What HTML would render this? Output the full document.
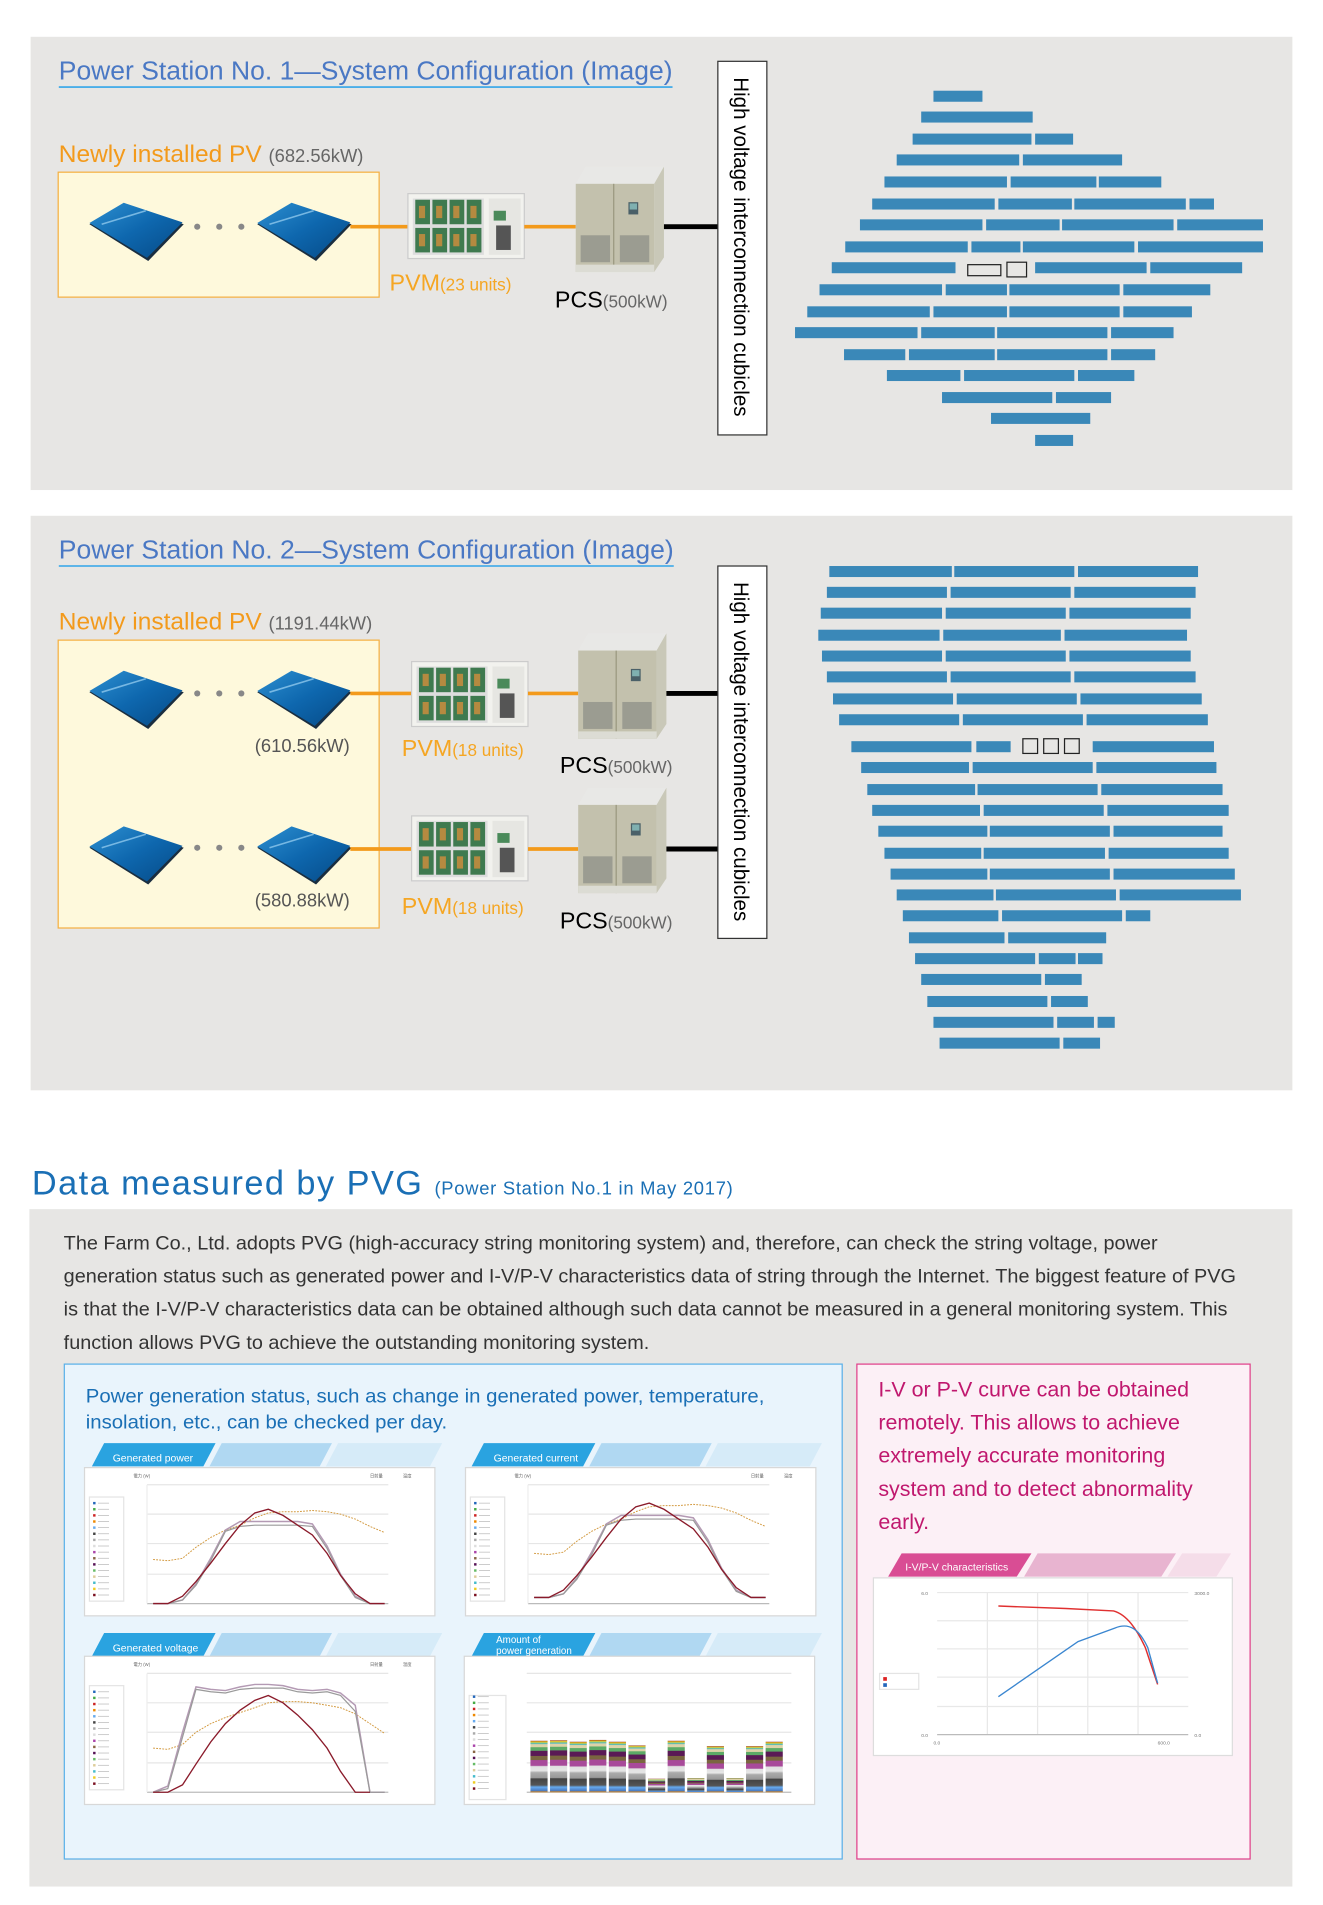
<!DOCTYPE html>
<html><head><meta charset="utf-8"><style>
html,body{margin:0;padding:0;background:#fff}
svg{display:block}
text{font-family:"Liberation Sans",Arial,sans-serif}
</style></head><body>
<svg width="1323" height="1905" viewBox="0 0 1080 1555" xmlns="http://www.w3.org/2000/svg">
<defs>
<linearGradient id="pg" x1="0" y1="0" x2="1" y2="1"><stop offset="0" stop-color="#2d8fd0"/><stop offset="0.5" stop-color="#0e67ae"/><stop offset="1" stop-color="#064a86"/></linearGradient>
<g id="panel"><polygon points="0,20 28,4 77,20 48,50" fill="#1a2e40"/><polygon points="0,19 28,2.5 76,18.5 47,47.5" fill="url(#pg)"/><line x1="10" y1="20" x2="46" y2="9" stroke="#9fd4f4" stroke-width="1.3" opacity="0.7"/></g>
<g id="pvm">
<rect x="0" y="0" width="95" height="53" fill="#f2f2ee" stroke="#ccc"/>
<rect x="4" y="4" width="58" height="46" fill="#ddd"/>
<g fill="#3f7a4f"><rect x="6" y="5" width="12" height="20"/><rect x="20" y="5" width="12" height="20"/><rect x="34" y="5" width="12" height="20"/><rect x="48" y="5" width="12" height="20"/><rect x="6" y="28" width="12" height="20"/><rect x="20" y="28" width="12" height="20"/><rect x="34" y="28" width="12" height="20"/><rect x="48" y="28" width="12" height="20"/></g>
<g fill="#b58a40"><rect x="9" y="10" width="5" height="10"/><rect x="23" y="10" width="5" height="10"/><rect x="37" y="10" width="5" height="10"/><rect x="51" y="10" width="5" height="10"/><rect x="9" y="33" width="5" height="10"/><rect x="23" y="33" width="5" height="10"/><rect x="37" y="33" width="5" height="10"/><rect x="51" y="33" width="5" height="10"/></g>
<rect x="66" y="4" width="26" height="46" fill="#e6e6e2"/><rect x="70" y="14" width="10" height="8" fill="#4a8a5a"/><rect x="72" y="26" width="12" height="20" fill="#555"/>
</g>
<g id="pcs">
<polygon points="0,14 64,14 72,0 8,0" fill="#e8e8e6"/><polygon points="64,14 72,0 72,74 64,86" fill="#c9c8b8"/>
<rect x="0" y="14" width="64" height="72" fill="#c3c1ad"/><line x1="31" y1="14" x2="31" y2="86" stroke="#9a987f"/>
<rect x="0" y="80" width="64" height="6" fill="#dcdcd4"/>
<rect x="4" y="56" width="24" height="22" fill="#9b9c91"/><rect x="36" y="56" width="24" height="22" fill="#9b9c91"/>
<rect x="43" y="29" width="8" height="10" fill="#4a6068"/><rect x="44" y="30" width="6" height="5" fill="#7fb0b0"/>
</g>
</defs>

<!-- Panel 1 -->
<rect x="25" y="30" width="1030" height="370" fill="#e7e6e4"/>
<text x="48" y="65" font-size="21" fill="#4a78c4" textLength="501" lengthAdjust="spacingAndGlyphs">Power Station No. 1—System Configuration (Image)</text>
<line x1="48" y1="71" x2="549" y2="71" stroke="#4aaee8" stroke-width="1.5"/>
<text x="48" y="132" font-size="20" fill="#f39a1b">Newly installed PV <tspan font-size="15" fill="#666">(682.56kW)</tspan></text>
<rect x="47.5" y="140.5" width="262" height="102" fill="#fef9dc" stroke="#f5b042"/>
<use href="#panel" x="73" y="163"/><use href="#panel" x="210" y="163"/>
<circle cx="161" cy="185" r="2.5" fill="#888"/><circle cx="179" cy="185" r="2.5" fill="#888"/><circle cx="197" cy="185" r="2.5" fill="#888"/>
<line x1="286" y1="185" x2="333" y2="185" stroke="#f39a1b" stroke-width="3"/>
<use href="#pvm" x="333" y="158"/>
<line x1="428" y1="185" x2="470" y2="185" stroke="#f39a1b" stroke-width="3"/>
<use href="#pcs" x="470" y="136"/>
<line x1="542" y1="185" x2="586" y2="185" stroke="#000" stroke-width="4"/>
<text x="318" y="237" font-size="19" fill="#f5a623">PVM<tspan font-size="14">(23 units)</tspan></text>
<text x="453" y="251" font-size="19" fill="#000">PCS<tspan font-size="14" fill="#666">(500kW)</tspan></text>
<rect x="586" y="50" width="40" height="305" fill="#fff" stroke="#333"/>
<text transform="translate(599,63) rotate(90)" font-size="17" fill="#000" textLength="277" lengthAdjust="spacingAndGlyphs">High voltage interconnection cubicles</text>
<g fill="#3a88b8">
<rect x="762" y="74" width="40" height="9"/>
<rect x="752" y="91" width="91" height="9"/>
<rect x="745" y="109" width="97" height="9"/><rect x="845" y="109" width="31" height="9"/>
<rect x="732" y="126" width="100" height="9"/><rect x="835" y="126" width="81" height="9"/>
<rect x="722" y="144" width="100" height="9"/><rect x="825" y="144" width="70" height="9"/><rect x="897" y="144" width="51" height="9"/>
<rect x="712" y="162" width="100" height="9"/><rect x="815" y="162" width="60" height="9"/><rect x="877" y="162" width="91" height="9"/><rect x="971" y="162" width="20" height="9"/>
<rect x="702" y="179" width="100" height="9"/><rect x="805" y="179" width="60" height="9"/><rect x="867" y="179" width="91" height="9"/><rect x="961" y="179" width="70" height="9"/>
<rect x="690" y="197" width="100" height="9"/><rect x="793" y="197" width="40" height="9"/><rect x="835" y="197" width="91" height="9"/><rect x="929" y="197" width="102" height="9"/>
<rect x="679" y="214" width="101" height="9"/><rect x="845" y="214" width="91" height="9"/><rect x="939" y="214" width="75" height="9"/>
<rect x="669" y="232" width="100" height="9"/><rect x="772" y="232" width="50" height="9"/><rect x="824" y="232" width="90" height="9"/><rect x="917" y="232" width="71" height="9"/>
<rect x="659" y="250" width="100" height="9"/><rect x="762" y="250" width="60" height="9"/><rect x="824" y="250" width="90" height="9"/><rect x="917" y="250" width="56" height="9"/>
<rect x="649" y="267" width="100" height="9"/><rect x="752" y="267" width="60" height="9"/><rect x="814" y="267" width="90" height="9"/><rect x="907" y="267" width="51" height="9"/>
<rect x="689" y="285" width="50" height="9"/><rect x="742" y="285" width="70" height="9"/><rect x="814" y="285" width="90" height="9"/><rect x="907" y="285" width="36" height="9"/>
<rect x="724" y="302" width="60" height="9"/><rect x="787" y="302" width="90" height="9"/><rect x="880" y="302" width="46" height="9"/>
<rect x="769" y="320" width="90" height="9"/><rect x="862" y="320" width="45" height="9"/>
<rect x="809" y="337" width="81" height="9"/>
<rect x="845" y="355" width="31" height="9"/>
</g>
<rect x="790" y="216" width="27" height="9" fill="none" stroke="#222"/><rect x="822" y="214" width="16" height="12" fill="none" stroke="#222"/>

<!-- Panel 2 -->
<rect x="25" y="421" width="1030" height="469" fill="#e7e6e4"/>
<text x="48" y="456" font-size="21" fill="#4a78c4" textLength="502" lengthAdjust="spacingAndGlyphs">Power Station No. 2—System Configuration (Image)</text>
<line x1="48" y1="462" x2="550" y2="462" stroke="#4aaee8" stroke-width="1.5"/>
<text x="48" y="514" font-size="20" fill="#f39a1b">Newly installed PV <tspan font-size="15" fill="#666">(1191.44kW)</tspan></text>
<rect x="47.5" y="522.5" width="262" height="235" fill="#fef9dc" stroke="#f5b042"/>
<use href="#panel" x="73" y="545"/><use href="#panel" x="210" y="545"/>
<circle cx="161" cy="566" r="2.5" fill="#888"/><circle cx="179" cy="566" r="2.5" fill="#888"/><circle cx="197" cy="566" r="2.5" fill="#888"/>
<use href="#panel" x="73" y="672"/><use href="#panel" x="210" y="672"/>
<circle cx="161" cy="692" r="2.5" fill="#888"/><circle cx="179" cy="692" r="2.5" fill="#888"/><circle cx="197" cy="692" r="2.5" fill="#888"/>
<text x="208" y="614" font-size="15" fill="#555">(610.56kW)</text>
<text x="208" y="740" font-size="15" fill="#555">(580.88kW)</text>
<line x1="286" y1="566" x2="336" y2="566" stroke="#f39a1b" stroke-width="3"/>
<use href="#pvm" x="336" y="540"/>
<line x1="431" y1="566" x2="472" y2="566" stroke="#f39a1b" stroke-width="3"/>
<use href="#pcs" x="472" y="517"/>
<line x1="544" y1="566" x2="586" y2="566" stroke="#000" stroke-width="4"/>
<line x1="286" y1="693" x2="336" y2="693" stroke="#f39a1b" stroke-width="3"/>
<use href="#pvm" x="336" y="666"/>
<line x1="431" y1="693" x2="472" y2="693" stroke="#f39a1b" stroke-width="3"/>
<use href="#pcs" x="472" y="643"/>
<line x1="544" y1="693" x2="586" y2="693" stroke="#000" stroke-width="4"/>
<text x="328" y="617" font-size="19" fill="#f5a623">PVM<tspan font-size="14">(18 units)</tspan></text>
<text x="328" y="746" font-size="19" fill="#f5a623">PVM<tspan font-size="14">(18 units)</tspan></text>
<text x="457" y="631" font-size="19" fill="#000">PCS<tspan font-size="14" fill="#666">(500kW)</tspan></text>
<text x="457" y="758" font-size="19" fill="#000">PCS<tspan font-size="14" fill="#666">(500kW)</tspan></text>
<rect x="586" y="462" width="40" height="304" fill="#fff" stroke="#333"/>
<text transform="translate(599,475) rotate(90)" font-size="17" fill="#000" textLength="277" lengthAdjust="spacingAndGlyphs">High voltage interconnection cubicles</text>
<g fill="#3a88b8">
<rect x="677" y="462" width="100" height="9"/><rect x="779" y="462" width="98" height="9"/><rect x="880" y="462" width="98" height="9"/>
<rect x="675" y="479" width="98" height="9"/><rect x="776" y="479" width="98" height="9"/><rect x="877" y="479" width="99" height="9"/>
<rect x="670" y="496" width="99" height="9"/><rect x="772" y="496" width="98" height="9"/><rect x="873" y="496" width="99" height="9"/>
<rect x="668" y="514" width="99" height="9"/><rect x="770" y="514" width="96" height="9"/><rect x="869" y="514" width="100" height="9"/>
<rect x="671" y="531" width="98" height="9"/><rect x="772" y="531" width="98" height="9"/><rect x="873" y="531" width="99" height="9"/>
<rect x="675" y="548" width="98" height="9"/><rect x="776" y="548" width="98" height="9"/><rect x="877" y="548" width="99" height="9"/>
<rect x="680" y="566" width="98" height="9"/><rect x="781" y="566" width="98" height="9"/><rect x="882" y="566" width="99" height="9"/>
<rect x="685" y="583" width="98" height="9"/><rect x="786" y="583" width="98" height="9"/><rect x="887" y="583" width="99" height="9"/>
<rect x="695" y="605" width="98" height="9"/><rect x="797" y="605" width="28" height="9"/><rect x="892" y="605" width="99" height="9"/>
<rect x="703" y="622" width="88" height="9"/><rect x="794" y="622" width="98" height="9"/><rect x="895" y="622" width="98" height="9"/>
<rect x="708" y="640" width="88" height="9"/><rect x="798" y="640" width="98" height="9"/><rect x="899" y="640" width="99" height="9"/>
<rect x="712" y="657" width="88" height="9"/><rect x="803" y="657" width="98" height="9"/><rect x="904" y="657" width="99" height="9"/>
<rect x="717" y="674" width="89" height="9"/><rect x="808" y="674" width="98" height="9"/><rect x="909" y="674" width="89" height="9"/>
<rect x="722" y="692" width="79" height="9"/><rect x="803" y="692" width="99" height="9"/><rect x="905" y="692" width="98" height="9"/>
<rect x="727" y="709" width="79" height="9"/><rect x="808" y="709" width="98" height="9"/><rect x="909" y="709" width="99" height="9"/>
<rect x="732" y="726" width="79" height="9"/><rect x="813" y="726" width="98" height="9"/><rect x="914" y="726" width="99" height="9"/>
<rect x="737" y="743" width="78" height="9"/><rect x="818" y="743" width="98" height="9"/><rect x="919" y="743" width="20" height="9"/>
<rect x="742" y="761" width="78" height="9"/><rect x="823" y="761" width="80" height="9"/>
<rect x="747" y="778" width="98" height="9"/><rect x="848" y="778" width="30" height="9"/><rect x="880" y="778" width="20" height="9"/>
<rect x="752" y="795" width="98" height="9"/><rect x="853" y="795" width="30" height="9"/>
<rect x="757" y="813" width="98" height="9"/><rect x="858" y="813" width="30" height="9"/>
<rect x="762" y="830" width="98" height="9"/><rect x="863" y="830" width="30" height="9"/><rect x="896" y="830" width="14" height="9"/>
<rect x="767" y="847" width="98" height="9"/><rect x="868" y="847" width="30" height="9"/>
</g>
<g fill="none" stroke="#222"><rect x="835" y="603" width="12" height="12"/><rect x="852" y="603" width="12" height="12"/><rect x="869" y="603" width="12" height="12"/></g>

<!-- Data measured -->
<text x="26" y="975" font-size="28" fill="#1a6fb5" letter-spacing="1.2">Data measured by PVG <tspan font-size="15" letter-spacing="0.6">(Power Station No.1 in May 2017)</tspan></text>
<rect x="24" y="987" width="1031" height="553" fill="#e7e6e4"/>
<g font-size="15.5" fill="#333">
<text x="52" y="1020" textLength="893" lengthAdjust="spacingAndGlyphs">The Farm Co., Ltd. adopts PVG (high-accuracy string monitoring system) and, therefore, can check the string voltage, power</text>
<text x="52" y="1047" textLength="957" lengthAdjust="spacingAndGlyphs">generation status such as generated power and I-V/P-V characteristics data of string through the Internet. The biggest feature of PVG</text>
<text x="52" y="1074" textLength="950" lengthAdjust="spacingAndGlyphs">is that the I-V/P-V characteristics data can be obtained although such data cannot be measured in a general monitoring system. This</text>
<text x="52" y="1101" textLength="478" lengthAdjust="spacingAndGlyphs">function allows PVG to achieve the outstanding monitoring system.</text>
</g>

<rect x="52.5" y="1113.5" width="635" height="404" fill="#e9f4fc" stroke="#5ab0e8"/>
<text x="70" y="1145" font-size="15.5" fill="#1a6fb5" textLength="554" lengthAdjust="spacingAndGlyphs">Power generation status, such as change in generated power, temperature,</text>
<text x="70" y="1166" font-size="15.5" fill="#1a6fb5" textLength="295" lengthAdjust="spacingAndGlyphs">insolation, etc., can be checked per day.</text>

<defs>
<g id="tabs"><polygon points="16,0 107,0 97,19 6,19" fill="#2aa3e0"/><polygon points="112,0 202,0 192,19 102,19" fill="#b0d8f2"/><polygon points="207,0 292,0 282,19 197,19" fill="#d6ebf8"/></g>
<g id="frame">
<rect x="0" y="0" width="286" height="121" fill="#fff" stroke="#d8d8d8"/>
<g stroke="#e6e6e6"><line x1="51" y1="14" x2="248" y2="14"/><line x1="51" y1="38" x2="248" y2="38"/><line x1="51" y1="62" x2="248" y2="62"/><line x1="51" y1="87" x2="248" y2="87"/></g>
<line x1="51" y1="111" x2="248" y2="111" stroke="#bbb"/>
<line x1="51" y1="14" x2="51" y2="111" stroke="#eee"/>
<rect x="4" y="24" width="28" height="85" fill="none" stroke="#e4e4e4"/>
<g fill="#666" font-size="3.5"><text x="40" y="8">電力 (W)</text><text x="233" y="8">日射量</text><text x="260" y="8">温度</text></g>
</g>
<g id="leg"><rect x="7" y="28" width="2" height="2" fill="#2266bb"/><rect x="7" y="33" width="2" height="2" fill="#44aa44"/><rect x="7" y="38" width="2" height="2" fill="#cc2222"/><rect x="7" y="43" width="2" height="2" fill="#ee8800"/><rect x="7" y="48" width="2" height="2" fill="#66aaee"/><rect x="7" y="53" width="2" height="2" fill="#444"/><rect x="7" y="58" width="2" height="2" fill="#aaa"/><rect x="7" y="63" width="2" height="2" fill="#ddd"/><rect x="7" y="68" width="2" height="2" fill="#aa44aa"/><rect x="7" y="73" width="2" height="2" fill="#886644"/><rect x="7" y="78" width="2" height="2" fill="#551155"/><rect x="7" y="83" width="2" height="2" fill="#66bb66"/><rect x="7" y="88" width="2" height="2" fill="#ddcc99"/><rect x="7" y="93" width="2" height="2" fill="#44bbcc"/><rect x="7" y="98" width="2" height="2" fill="#eecc22"/><rect x="7" y="103" width="2" height="2" fill="#7a1020"/>
<g stroke="#bbb" stroke-width="0.6"><line x1="11" y1="29" x2="20" y2="29"/><line x1="11" y1="34" x2="20" y2="34"/><line x1="11" y1="39" x2="20" y2="39"/><line x1="11" y1="44" x2="20" y2="44"/><line x1="11" y1="49" x2="20" y2="49"/><line x1="11" y1="54" x2="20" y2="54"/><line x1="11" y1="59" x2="20" y2="59"/><line x1="11" y1="64" x2="20" y2="64"/><line x1="11" y1="69" x2="20" y2="69"/><line x1="11" y1="74" x2="20" y2="74"/><line x1="11" y1="79" x2="20" y2="79"/><line x1="11" y1="84" x2="20" y2="84"/><line x1="11" y1="89" x2="20" y2="89"/><line x1="11" y1="94" x2="20" y2="94"/><line x1="11" y1="99" x2="20" y2="99"/><line x1="11" y1="104" x2="20" y2="104"/></g></g>
<g id="bell">
<polyline fill="none" stroke="#d39a40" stroke-width="0.8" stroke-dasharray="1.5,1" points="56,75 68,76 80,74 91,65 103,57 115,51 127,47 139,41 150,37 162,36 174,36 186,35 198,36 209,38 221,42 233,48 245,53"/>
<polyline fill="none" stroke="#b49ab4" stroke-width="1.2" points="56,111 68,111 80,108 91,95 103,74 115,51 127,44 139,44 150,44 162,44 174,44 186,46 198,64 209,87 221,105 233,111 245,111"/>
<polyline fill="none" stroke="#9a9a9a" stroke-width="1" points="56,111 68,111 80,108 91,96 103,76 115,52 127,48 139,47 150,47 162,47 174,47 186,48 198,66 209,88 221,106 233,111 245,111"/>
<polyline fill="none" stroke="#8a1a2a" stroke-width="1.1" points="56,111 68,111 80,105 91,93 103,78 115,62 127,47 139,37 150,34 162,39 174,47 186,55 198,70 209,88 221,103 233,111 245,111"/>
</g>
</defs>

<use href="#tabs" x="69" y="1178"/><text x="92" y="1193" font-size="8.5" fill="#fff">Generated power</text>
<use href="#tabs" x="379" y="1178"/><text x="403" y="1193" font-size="8.5" fill="#fff">Generated current</text>
<use href="#tabs" x="69" y="1333"/><text x="92" y="1348" font-size="8.5" fill="#fff">Generated voltage</text>
<use href="#tabs" x="379" y="1333"/><text x="405" y="1341" font-size="8" fill="#fff">Amount of</text><text x="405" y="1350" font-size="8" fill="#fff">power generation</text>

<g transform="translate(69,1198)"><use href="#frame"/><use href="#leg"/><use href="#bell"/></g>
<g transform="translate(380,1198)"><use href="#frame"/><use href="#leg"/><g transform="translate(0,-5)"><use href="#bell"/></g></g>
<g transform="translate(69,1352)"><use href="#frame"/><use href="#leg"/>
<polyline fill="none" stroke="#d39a40" stroke-width="0.8" stroke-dasharray="1.5,1" points="56,75 68,76 80,72 91,62 103,55 115,50 127,46 139,42 150,38 162,37 174,37 186,38 198,40 209,42 221,47 233,55 245,63"/>
<polyline fill="none" stroke="#b49ab4" stroke-width="1.2" points="56,111 68,106 80,62 91,25 103,27 115,28 127,25 139,23 150,23 162,24 174,27 186,28 198,27 209,30 221,40 233,111 245,111"/>
<polyline fill="none" stroke="#9a9a9a" stroke-width="1" points="56,111 68,108 80,66 91,27 103,29 115,30 127,27 139,26 150,26 162,26 174,29 186,30 198,29 209,32 221,45 233,111 245,111"/>
<polyline fill="none" stroke="#8a1a2a" stroke-width="1.1" points="56,111 68,111 80,105 91,88 103,70 115,55 127,44 139,36 150,32 162,38 174,48 186,60 198,75 209,94 221,111 233,111"/>
</g>
<g transform="translate(379,1352)">
<rect x="0" y="0" width="286" height="121" fill="#fff" stroke="#d8d8d8"/>
<g stroke="#e6e6e6"><line x1="51" y1="14" x2="267" y2="14"/><line x1="51" y1="38" x2="267" y2="38"/><line x1="51" y1="62" x2="267" y2="62"/><line x1="51" y1="87" x2="267" y2="87"/></g>
<line x1="51" y1="111" x2="267" y2="111" stroke="#bbb"/>
<rect x="4" y="32" width="30" height="85" fill="none" stroke="#e4e4e4"/>
<use href="#leg" x="0" y="4"/>
<defs><linearGradient id="stk" x1="0" y1="1" x2="0" y2="0">
<stop offset="0" stop-color="#ee8800"/><stop offset="0.03" stop-color="#4a7ac0"/><stop offset="0.1" stop-color="#66aaee"/><stop offset="0.14" stop-color="#555"/><stop offset="0.26" stop-color="#444"/><stop offset="0.28" stop-color="#999"/><stop offset="0.38" stop-color="#aaa"/><stop offset="0.42" stop-color="#e6e6e6"/><stop offset="0.5" stop-color="#e0e0e0"/><stop offset="0.52" stop-color="#a84a9a"/><stop offset="0.62" stop-color="#a84a9a"/><stop offset="0.63" stop-color="#7a6640"/><stop offset="0.7" stop-color="#7a6640"/><stop offset="0.71" stop-color="#5a1a55"/><stop offset="0.8" stop-color="#5a1a55"/><stop offset="0.81" stop-color="#5caa66"/><stop offset="0.87" stop-color="#5caa66"/><stop offset="0.88" stop-color="#ddd2a8"/><stop offset="0.93" stop-color="#ddd2a8"/><stop offset="0.94" stop-color="#44bbcc"/><stop offset="0.98" stop-color="#eecc22"/><stop offset="1" stop-color="#8a2020"/>
</linearGradient></defs>
<g fill="url(#stk)">
<rect x="54" y="69" width="14" height="42"/><rect x="70" y="68.6" width="14" height="42.4"/><rect x="86" y="69.8" width="14" height="41.2"/><rect x="102" y="68.3" width="14" height="42.7"/><rect x="118" y="69.8" width="14" height="41.2"/><rect x="134" y="72.8" width="14" height="38.2"/><rect x="150" y="100" width="14" height="11"/><rect x="166" y="69" width="14" height="42"/><rect x="182" y="99.5" width="14" height="11.5"/><rect x="198" y="73.4" width="14" height="37.6"/><rect x="214" y="99.5" width="14" height="11.5"/><rect x="230" y="73.4" width="14" height="37.6"/><rect x="246" y="69.8" width="14" height="41.2"/>
</g>
</g>

<!-- Pink box -->
<rect x="699.5" y="1113.5" width="321" height="404" fill="#fcf0f6" stroke="#e0408a"/>
<g font-size="17.5" fill="#c0186e">
<text x="717" y="1140">I-V or P-V curve can be obtained</text>
<text x="717" y="1167">remotely. This allows to achieve</text>
<text x="717" y="1194">extremely accurate monitoring</text>
<text x="717" y="1221">system and to detect abnormality</text>
<text x="717" y="1248">early.</text>
</g>
<polygon points="736,1268 842,1268 830,1287 725,1287" fill="#d94d94"/>
<polygon points="847,1268 960,1268 948,1287 836,1287" fill="#e8b4d0"/>
<polygon points="965,1268 1005,1268 993,1287 953,1287" fill="#f5dde9"/>
<text x="739" y="1282" font-size="8.5" fill="#fff">I-V/P-V characteristics</text>
<rect x="713" y="1288" width="293" height="145" fill="#fff" stroke="#ddd"/>
<g stroke="#e8e8e8"><line x1="765" y1="1300" x2="970" y2="1300"/><line x1="765" y1="1323" x2="970" y2="1323"/><line x1="765" y1="1346" x2="970" y2="1346"/><line x1="765" y1="1369" x2="970" y2="1369"/><line x1="765" y1="1393" x2="970" y2="1393"/><line x1="806" y1="1300" x2="806" y2="1416"/><line x1="847" y1="1300" x2="847" y2="1416"/><line x1="888" y1="1300" x2="888" y2="1416"/><line x1="929" y1="1300" x2="929" y2="1416"/></g>
<line x1="765" y1="1416" x2="970" y2="1416" stroke="#bbb"/>
<rect x="718" y="1366" width="32" height="13" fill="#fff" stroke="#e4e4e4"/><rect x="721" y="1369" width="3" height="3" fill="#d22"/><rect x="721" y="1374" width="3" height="3" fill="#26b"/>
<path d="M815,1311 L870,1313 L909,1315 C920,1318 928,1330 935,1345 L945,1375" fill="none" stroke="#e03030" stroke-width="1.2"/>
<path d="M815,1385 L880,1340 L910,1329 C922,1324 930,1330 937,1345 L945,1374" fill="none" stroke="#3a86d0" stroke-width="1.1"/>
<g font-size="4" fill="#777"><text x="752" y="1302">6.0</text><text x="752" y="1418">0.0</text><text x="975" y="1302">3000.0</text><text x="975" y="1418">0.0</text><text x="762" y="1424">0.0</text><text x="945" y="1424">600.0</text></g>
</svg>
</body></html>
